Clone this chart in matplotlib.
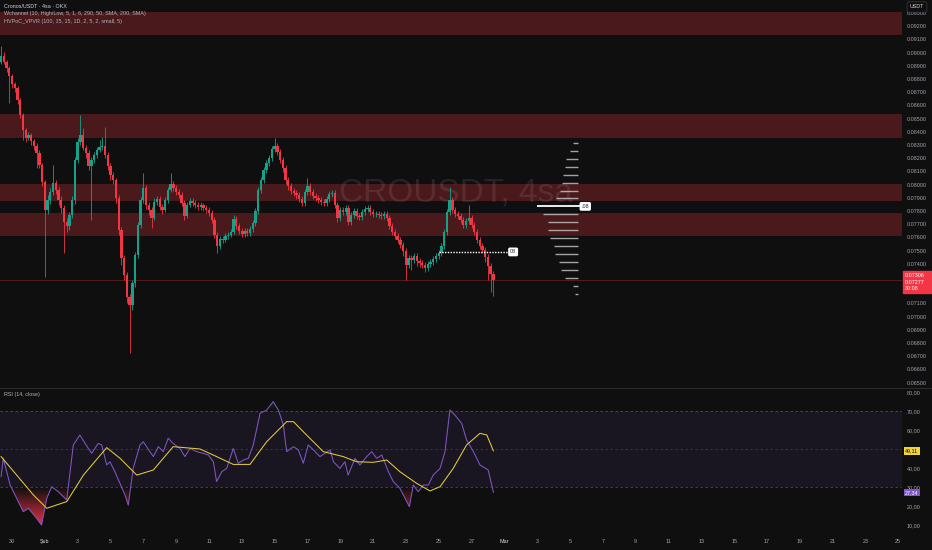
import matplotlib
matplotlib.use('Agg')
import matplotlib.pyplot as plt
import numpy as np
from matplotlib.patches import Rectangle
from matplotlib.path import Path

plt.rcParams['font.family'] = ['Liberation Sans', 'DejaVu Sans']

# ---------------- data ----------------
first_open = 0.08929
closes = [0.08974, 0.08929, 0.08883, 0.08823, 0.08762, 0.08732, 0.08641, 0.08527, 0.08414, 0.08353,
          0.08376, 0.08330, 0.08292, 0.08239, 0.08149, 0.08020, 0.07808, 0.07883, 0.07944, 0.08012,
          0.07959, 0.07883, 0.07823, 0.07717, 0.07686, 0.07770, 0.07883, 0.08186, 0.08323, 0.08376,
          0.08277, 0.08239, 0.08141, 0.08186, 0.08224, 0.08262, 0.08285, 0.08292, 0.08224, 0.08141,
          0.08073, 0.08035, 0.07898, 0.07656, 0.07444, 0.07315, 0.07148, 0.07088, 0.07255, 0.07467,
          0.07694, 0.07883, 0.07974, 0.07845, 0.07808, 0.07747, 0.07868, 0.07891, 0.07830, 0.07808,
          0.07883, 0.07959, 0.08005, 0.07974, 0.07944, 0.07921, 0.07861, 0.07762, 0.07845, 0.07876,
          0.07861, 0.07845, 0.07830, 0.07845, 0.07823, 0.07808, 0.07785, 0.07732, 0.07618, 0.07535,
          0.07588, 0.07580, 0.07611, 0.07618, 0.07641, 0.07739, 0.07686, 0.07649, 0.07626, 0.07649,
          0.07633, 0.07664, 0.07709, 0.07800, 0.07959, 0.08035, 0.08111, 0.08164, 0.08202, 0.08270,
          0.08292, 0.08247, 0.08186, 0.08126, 0.08035, 0.07989, 0.07952, 0.07936, 0.07921, 0.07891,
          0.07861, 0.07944, 0.07989, 0.07944, 0.07914, 0.07898, 0.07883, 0.07868, 0.07861, 0.07891,
          0.07929, 0.07936, 0.07845, 0.07747, 0.07808, 0.07792, 0.07823, 0.07717, 0.07770, 0.07800,
          0.07762, 0.07755, 0.07792, 0.07815, 0.07823, 0.07792, 0.07777, 0.07777, 0.07770, 0.07762,
          0.07777, 0.07747, 0.07686, 0.07641, 0.07611, 0.07580, 0.07542, 0.07497, 0.07391, 0.07444,
          0.07429, 0.07459, 0.07421, 0.07406, 0.07391, 0.07368, 0.07398, 0.07414, 0.07436, 0.07459,
          0.07482, 0.07535, 0.07641, 0.07792, 0.07883, 0.07808, 0.07777, 0.07762, 0.07732, 0.07694,
          0.07724, 0.07747, 0.07694, 0.07641, 0.07580, 0.07535, 0.07505, 0.07452, 0.07383, 0.07323,
          0.07277]
highs = [0.09050, 0.09005, 0.08944, 0.08898, 0.08838, 0.08777, 0.08747, 0.08656, 0.08542, 0.08429,
         0.08398, 0.08391, 0.08345, 0.08315, 0.08262, 0.08164, 0.08035, 0.07921, 0.07974, 0.08149,
         0.08035, 0.07982, 0.07914, 0.07845, 0.07747, 0.07792, 0.07914, 0.08209, 0.08353, 0.08527,
         0.08429, 0.08300, 0.08262, 0.08209, 0.08247, 0.08285, 0.08338, 0.08361, 0.08436, 0.08247,
         0.08164, 0.08095, 0.08050, 0.07921, 0.07679, 0.07467, 0.07338, 0.07171, 0.07277, 0.07489,
         0.07717, 0.07906, 0.08088, 0.07997, 0.07868, 0.07830, 0.07898, 0.07914, 0.07914, 0.07853,
         0.07906, 0.07982, 0.08088, 0.08027, 0.07997, 0.07967, 0.07944, 0.07883, 0.07868, 0.07898,
         0.07898, 0.07883, 0.07868, 0.07868, 0.07861, 0.07845, 0.07830, 0.07808, 0.07755, 0.07641,
         0.07611, 0.07611, 0.07633, 0.07641, 0.07664, 0.07770, 0.07762, 0.07709, 0.07671, 0.07671,
         0.07671, 0.07686, 0.07732, 0.07823, 0.07982, 0.08058, 0.08133, 0.08186, 0.08224, 0.08292,
         0.08353, 0.08315, 0.08270, 0.08209, 0.08149, 0.08058, 0.08012, 0.07974, 0.07959, 0.07944,
         0.07914, 0.07967, 0.08050, 0.08012, 0.07967, 0.07936, 0.07921, 0.07906, 0.07891, 0.07914,
         0.07952, 0.07959, 0.07959, 0.07868, 0.07830, 0.07830, 0.07845, 0.07845, 0.07792, 0.07823,
         0.07823, 0.07785, 0.07815, 0.07838, 0.07845, 0.07845, 0.07815, 0.07800, 0.07800, 0.07792,
         0.07800, 0.07800, 0.07770, 0.07709, 0.07664, 0.07633, 0.07603, 0.07565, 0.07520, 0.07467,
         0.07467, 0.07482, 0.07482, 0.07444, 0.07429, 0.07414, 0.07421, 0.07436, 0.07459, 0.07482,
         0.07505, 0.07558, 0.07664, 0.07815, 0.07982, 0.07906, 0.07830, 0.07800, 0.07785, 0.07755,
         0.07747, 0.07845, 0.07770, 0.07717, 0.07664, 0.07603, 0.07558, 0.07527, 0.07474, 0.07406,
         0.07345]
lows = [0.08914, 0.08914, 0.08853, 0.08618, 0.08732, 0.08702, 0.08611, 0.08505, 0.08338, 0.08323,
        0.08338, 0.08300, 0.08262, 0.08126, 0.08126, 0.07989, 0.07300, 0.07777, 0.07853, 0.07921,
        0.07929, 0.07845, 0.07785, 0.07482, 0.07641, 0.07656, 0.07747, 0.07853, 0.08164, 0.08300,
        0.08262, 0.08202, 0.08111, 0.07732, 0.08164, 0.08202, 0.08247, 0.08262, 0.08202, 0.08111,
        0.08035, 0.08005, 0.07861, 0.07618, 0.07391, 0.07277, 0.07103, 0.06724, 0.07050, 0.07224,
        0.07444, 0.07671, 0.07861, 0.07815, 0.07770, 0.07671, 0.07732, 0.07845, 0.07808, 0.07777,
        0.07792, 0.07861, 0.07944, 0.07952, 0.07921, 0.07898, 0.07838, 0.07732, 0.07747, 0.07830,
        0.07838, 0.07823, 0.07808, 0.07808, 0.07800, 0.07785, 0.07762, 0.07709, 0.07596, 0.07482,
        0.07512, 0.07558, 0.07565, 0.07588, 0.07603, 0.07626, 0.07664, 0.07626, 0.07603, 0.07603,
        0.07611, 0.07611, 0.07641, 0.07686, 0.07777, 0.07936, 0.08012, 0.08088, 0.08141, 0.08179,
        0.08247, 0.08224, 0.08164, 0.08095, 0.08005, 0.07959, 0.07929, 0.07914, 0.07891, 0.07868,
        0.07838, 0.07838, 0.07921, 0.07921, 0.07891, 0.07876, 0.07861, 0.07845, 0.07838, 0.07838,
        0.07868, 0.07906, 0.07823, 0.07717, 0.07724, 0.07770, 0.07770, 0.07694, 0.07694, 0.07747,
        0.07739, 0.07732, 0.07732, 0.07770, 0.07792, 0.07770, 0.07755, 0.07755, 0.07747, 0.07739,
        0.07739, 0.07724, 0.07664, 0.07618, 0.07588, 0.07558, 0.07520, 0.07459, 0.07277, 0.07368,
        0.07353, 0.07406, 0.07383, 0.07376, 0.07368, 0.07338, 0.07345, 0.07376, 0.07391, 0.07414,
        0.07436, 0.07459, 0.07512, 0.07618, 0.07770, 0.07785, 0.07755, 0.07739, 0.07709, 0.07671,
        0.07671, 0.07702, 0.07671, 0.07618, 0.07558, 0.07512, 0.07482, 0.07414, 0.07277, 0.07185,
        0.07155]

# supply/demand zones (low, high)
zone_lows = [0.09133, 0.08353, 0.07876, 0.07611]
zone_highs = [0.09308, 0.08535, 0.08005, 0.07785]

# volume profile rows
vp_prices = [0.08315, 0.08255, 0.08195, 0.08135, 0.08075, 0.08015, 0.07955, 0.07895, 0.07835, 0.07775,
             0.07715, 0.07655, 0.07595, 0.07535, 0.07475, 0.07415, 0.07355, 0.07295, 0.07235, 0.07175]
vp_volumes = [5, 8, 12, 13, 15, 16, 18, 22, 41, 35, 30, 30, 28, 24, 23, 19, 17, 13, 5, 3]
vp_end_bar = 211
hv_level = 0.07490
hv_start, hv_end = 160, 185.3

# RSI read points (bar index, value)
rsi_idx = [0, 0.8, 3.3, 8.1, 10, 13, 14.8, 16.7, 18.5, 20.9, 24, 26.4, 28.8, 30.7, 33.1, 35.5, 36.8,
           38.6, 39.8, 41.6, 45.3, 46.5, 48.3, 50.8, 52, 54.4, 55.7, 57.5, 59.3, 61.1, 62.9, 65.4,
           67.2, 69.1, 71.5, 73.9, 75.8, 77.6, 78.8, 80.7, 82.5, 84.9, 86.7, 88.6, 90.4, 92.2, 94.7,
           97.1, 99.5, 101.4, 103.2, 104.4, 106.9, 108.7, 110.5, 112.3, 114.2, 116.6, 120.3, 121.5,
           123.9, 125.7, 126.9, 129.4, 131.2, 133.7, 135.5, 137.3, 139.2, 141.6, 143.4, 145.8, 149.3,
           150.7, 152.5, 154.4, 156.2, 158, 160.5, 162.3, 164.1, 165.9, 168.4, 170.2, 172.7, 175.1,
           178.1, 180]
rsi_val = [35.6, 45.2, 31.2, 17.2, 19.0, 13.7, 10.2, 24.2, 30.3, 27.7, 23.3, 52.2, 57.4, 53.0, 47.8,
           53.0, 52.2, 41.7, 43.4, 38.2, 26.0, 20.7, 39.9, 52.2, 53.9, 48.7, 46.1, 51.3, 48.7, 55.7,
           53.0, 50.4, 46.1, 50.4, 48.7, 47.8, 46.9, 43.4, 33.0, 38.2, 39.9, 50.4, 42.6, 44.3, 45.2,
           52.2, 68.8, 70.5, 74.9, 70.5, 62.7, 48.7, 51.3, 49.6, 42.6, 52.2, 49.6, 46.1, 49.6, 43.4,
           39.9, 43.4, 36.4, 45.2, 41.7, 46.1, 48.7, 45.2, 46.9, 38.2, 33.0, 29.5, 19.8, 31.2, 27.7,
           31.2, 31.2, 36.4, 39.9, 48.7, 70.5, 67.9, 63.5, 54.8, 48.7, 41.7, 39.1, 27.34]
sma_idx = [0, 5.7, 11.8, 16.7, 24, 30.1, 38.6, 43.5, 49.6, 55.7, 62.9, 72.7, 78.8, 84.9, 91, 97.1,
           104.4, 106.9, 111.7, 117.8, 125.1, 130, 136.1, 141, 145.8, 151.9, 156.8, 160.5, 165.3,
           170.2, 175.1, 177.6, 180]
sma_val = [46.1, 36.4, 26.0, 19.0, 22.5, 36.4, 50.8, 45.2, 36.4, 39.1, 51.3, 50.1, 46.1, 42.0, 42.0,
           53.9, 64.4, 64.4, 57.4, 48.7, 46.1, 43.4, 43.1, 44.3, 38.2, 32.1, 28.1, 30.3, 39.9, 52.2,
           58.3, 57.4, 49.11]

price_ticks = [0.065, 0.066, 0.067, 0.068, 0.069, 0.070, 0.071, 0.072, 0.073, 0.074, 0.075, 0.076,
               0.077, 0.078, 0.079, 0.080, 0.081, 0.082, 0.083, 0.084, 0.085, 0.086, 0.087, 0.088,
               0.089, 0.090, 0.091, 0.092, 0.093]
hidden_price_ticks = [0.072, 0.073]
rsi_ticks = [10, 20, 30, 40, 50, 60, 70, 80]
date_tick_idx = [4, 16, 28, 40, 52, 64, 76, 88, 100, 112, 124, 136, 148, 160, 172, 184, 196, 208,
                 220, 232, 244, 256, 268, 280, 292, 304, 316, 328]
date_tick_labels = ['30', 'Şub', '3', '5', '7', '9', '11', '13', '15', '17', '19', '21', '23', '25',
                    '27', 'Mar', '3', '5', '7', '9', '11', '13', '15', '17', '19', '21', '23', '25']

# ---------------- style ----------------
BG = '#0f0f0f'
RED = '#f23645'
TEAL = '#14a28a'
TXT = '#a3a6af'
FS = 3.9

fig = plt.figure(figsize=(9.32, 5.5), dpi=100, facecolor=BG)
ax = fig.add_axes([0, 1 - 387 / 550, 902 / 932, 387 / 550])
ax2 = fig.add_axes([0, 1 - 533 / 550, 902 / 932, 145 / 550])
for a in (ax, ax2):
    a.set_facecolor(BG)
    for s in a.spines.values():
        s.set_visible(False)

XMIN, XMAX = -0.4, 329.4

# ---------------- main pane ----------------
for lo, hi in zip(zone_lows, zone_highs):
    ax.axhspan(lo, hi, color=RED, alpha=0.26, lw=0, zorder=1)

ax.text(0.505, 0.502, 'CROUSDT, 4sa', transform=ax.transAxes, ha='center', va='center',
        fontsize=24, color='white', alpha=0.09, zorder=1.5)

o = np.array([first_open] + closes[:-1])
c = np.array(closes)
idx = np.arange(len(c))
cols = np.where(c >= o, TEAL, RED)
ax.vlines(idx, lows, highs, colors=cols, linewidth=0.6, zorder=3)
ax.bar(idx, np.maximum(np.abs(c - o), 0.00002), bottom=np.minimum(o, c), width=0.86,
       color=cols, linewidth=0, zorder=4)

ax.axhline(closes[-1], color=RED, lw=0.6, alpha=0.35, zorder=2)

# volume profile
vmax = max(vp_volumes)
for pr, vol in zip(vp_prices, vp_volumes):
    w = vol / vmax * 15.0
    if vol == vmax:
        ax.hlines(pr, vp_end_bar - w, vp_end_bar + 0.6, colors='white', lw=1.3, zorder=6)
    else:
        ax.hlines(pr, vp_end_bar - w, vp_end_bar, colors='#c8c8c8', lw=1.0, alpha=0.8, zorder=6)
poc = vp_prices[vp_volumes.index(vmax)]
ax.text(vp_end_bar + 1.2, poc, '.08', fontsize=FS, color='#202020', ha='left', va='center', zorder=7,
        bbox=dict(boxstyle='round,pad=0.35,rounding_size=0.3', fc='white', ec='none'))

ax.hlines(hv_level, hv_start, hv_end, colors='white', linestyles=(0, (1, 1)), lw=1.0, zorder=6)
ax.text(hv_end + 0.8, hv_level, '08', fontsize=FS, color='#202020', ha='left', va='center', zorder=7,
        bbox=dict(boxstyle='round,pad=0.35,rounding_size=0.3', fc='white', ec='none'))

ax.set_xlim(XMIN, XMAX)
ax.set_ylim(0.064667, 0.093985)
ax.set_xticks([])
ax.yaxis.tick_right()
ax.set_yticks(price_ticks)
ax.set_yticklabels(['' if t in hidden_price_ticks else f'{t:.5f}' for t in price_ticks])
ax.tick_params(axis='y', length=0, pad=3.2, labelsize=FS, labelcolor=TXT)

# header
hdr = [('Cronos/USDT · 4sa · OKX', 6, '#d1d4dc'),
       ('Wchannel (10, High/Low, 5, 1, 6, 290, 50, SMA, 200, SMA)', 14, '#b2b5be'),
       ('HVPoC_VPVR (100, 15, 15, 1D, 2, 5, 2, small, 5)', 21, '#b2b5be')]
for s, yp, col in hdr:
    fig.text(4 / 932, 1 - yp / 550, s, fontsize=FS, color=col, ha='left', va='center')

fig.text(917 / 932, 1 - 7 / 550, 'USDT', fontsize=FS, color='#d1d4dc', ha='center', va='center',
         bbox=dict(boxstyle='round,pad=0.5,rounding_size=0.3', fc=BG, ec='#3a3d45', lw=0.5))

# last price box
ytr = ax.get_yaxis_transform()
box_top, box_bot = 0.07345, 0.07177
ax.add_patch(Rectangle((1.001, box_bot), 0.031, box_top - box_bot, transform=ytr, color=RED,
                       clip_on=False, zorder=8))
for s, pr in [('0.07306', 0.07310), ('0.07277', 0.07262), ('30:08', 0.07212)]:
    ax.text(1.0035, pr, s, transform=ytr, fontsize=FS, color='white', ha='left', va='center',
            clip_on=False, zorder=9)

# ---------------- RSI pane ----------------
ax2.axhspan(30, 70, color='#7e57c2', alpha=0.1, lw=0, zorder=1)
for lv, al in [(70, 0.55), (50, 0.35), (30, 0.55)]:
    ax2.axhline(lv, color='#787b86', lw=0.6, alpha=al, ls=(0, (3, 3)), zorder=2)

rx = np.array(rsi_idx)
rv = np.array(rsi_val)
coll = ax2.fill_between(rx, rv, 30, where=rv < 30, interpolate=True, facecolor='none', edgecolor='none')
clip = Path.make_compound_path(*coll.get_paths())
vals = np.linspace(0, 30, 256)
grad = np.zeros((256, 1, 4))
grad[:, 0, 0], grad[:, 0, 1], grad[:, 0, 2] = 242 / 255, 54 / 255, 69 / 255
grad[:, 0, 3] = np.clip((30 - vals) / 20, 0, 1) * 0.95
img = ax2.imshow(grad, extent=[rx.min(), rx.max(), 0, 30], origin='lower', aspect='auto', zorder=2.5,
                 interpolation='bilinear')
img.set_clip_path(clip, ax2.transData)

coll2 = ax2.fill_between(rx, rv, 70, where=rv > 70, interpolate=True, facecolor='none', edgecolor='none')
clip2 = Path.make_compound_path(*coll2.get_paths())
vals2 = np.linspace(70, 100, 256)
grad2 = np.zeros((256, 1, 4))
grad2[:, 0, 0], grad2[:, 0, 1], grad2[:, 0, 2] = 8 / 255, 153 / 255, 129 / 255
grad2[:, 0, 3] = np.clip((vals2 - 70) / 20, 0, 1) * 0.9
img2 = ax2.imshow(grad2, extent=[rx.min(), rx.max(), 70, 100], origin='lower', aspect='auto', zorder=2.5,
                  interpolation='bilinear')
img2.set_clip_path(clip2, ax2.transData)

ax2.plot(rx, rv, color='#7e57c2', lw=0.75, zorder=4)
ax2.plot(sma_idx, sma_val, color='#e3cb3a', lw=0.75, zorder=5)

ax2.set_xlim(XMIN, XMAX)
ax2.set_ylim(6.04, 82.06)
ax2.yaxis.tick_right()
ax2.set_yticks(rsi_ticks)
ax2.set_yticklabels(['' if t == 50 else f'{t:.2f}'.replace('.', ',') for t in rsi_ticks])
ax2.tick_params(axis='y', length=0, pad=3.2, labelsize=FS, labelcolor=TXT)
ax2.set_xticks(date_tick_idx)
ax2.set_xticklabels(date_tick_labels)
ax2.tick_params(axis='x', length=0, pad=4.2, labelsize=FS, labelcolor=TXT)
for lbl in ax2.get_xticklabels():
    if lbl.get_text() in ('Şub', 'Mar'):
        lbl.set_color('#d8dae0')

ax2.text(0.004, 0.975, 'RSI (14, close)', transform=ax2.transAxes, fontsize=FS, color='#b2b5be',
         ha='left', va='top')

ytr2 = ax2.get_yaxis_transform()
ax2.text(1.0035, sma_val[-1], f'{sma_val[-1]:.2f}'.replace('.', ','), transform=ytr2, fontsize=FS,
         color='#131313', ha='left', va='center', clip_on=False, zorder=9,
         bbox=dict(boxstyle='square,pad=0.25', fc='#f0d23c', ec='none'))
ax2.text(1.0035, rsi_val[-1], f'{rsi_val[-1]:.2f}'.replace('.', ','), transform=ytr2, fontsize=FS,
         color='white', ha='left', va='center', clip_on=False, zorder=9,
         bbox=dict(boxstyle='square,pad=0.25', fc='#7e57c2', ec='none'))

# pane separator
fig.add_artist(plt.Line2D([0, 1], [1 - 387.5 / 550] * 2, transform=fig.transFigure, color='#2a2a2a', lw=0.8))

fig.savefig('out.png', dpi=100, facecolor=BG)
